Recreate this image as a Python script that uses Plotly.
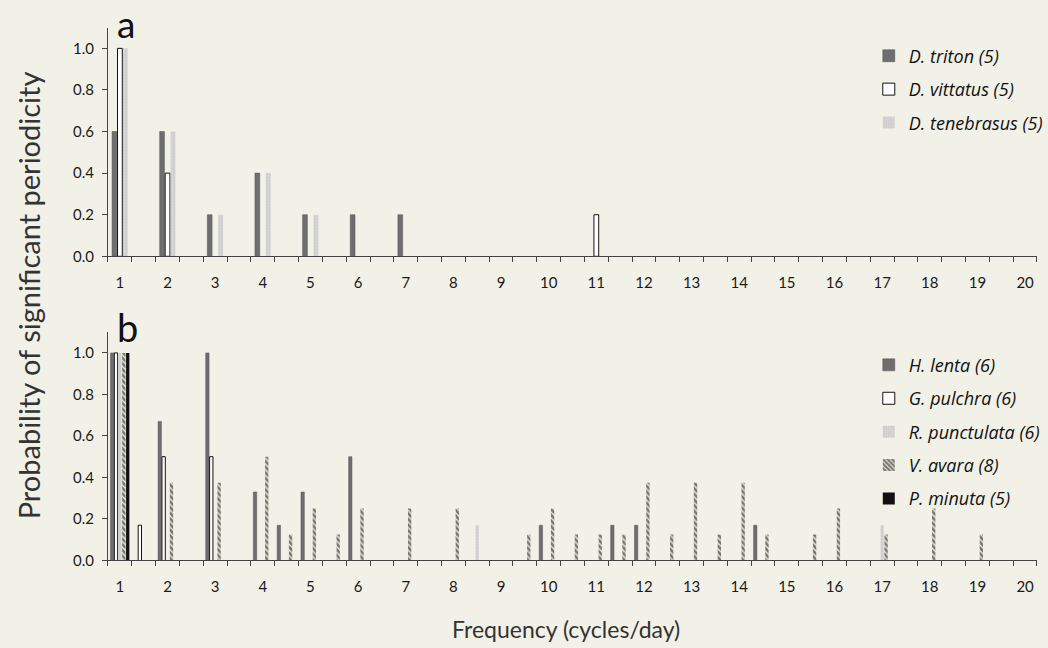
import plotly.graph_objects as go

# ---------------- data ----------------
freq_labels = [str(i) for i in range(1, 21)]
freq_label_pos = [1, 2, 3, 4, 5, 6, 7, 8, 9, 10, 11, 12, 13, 14, 15, 16, 17, 18, 19, 20]

# Panel a
triton_x = [1, 2, 3, 4, 5, 6, 7]
triton_y = [0.6, 0.6, 0.2, 0.4, 0.2, 0.2, 0.2]
vittatus_x = [1, 2, 11]
vittatus_y = [1.0, 0.4, 0.2]
tenebrasus_x = [1, 2, 3, 4, 5]
tenebrasus_y = [1.0, 0.6, 0.2, 0.4, 0.2]

# Panel b
lenta_x = [1, 2, 3, 4, 4.5, 5, 6, 10, 11.5, 12, 14.5]
lenta_y = [1.0, 0.67, 1.0, 0.33, 0.17, 0.33, 0.5, 0.17, 0.17, 0.17, 0.17]
pulchra_x = [1, 1.5, 2, 3]
pulchra_y = [1.0, 0.17, 0.5, 0.5]
punctulata_x = [1, 8.5, 17]
punctulata_y = [1.0, 0.17, 0.17]
avara_x = [1, 2, 3, 4, 4.5, 5, 5.5, 6, 7, 8, 9.5, 10, 10.5, 11, 11.5, 12, 12.5,
           13, 13.5, 14, 14.5, 15.5, 16, 17, 18, 19]
avara_y = [1.0, 0.375, 0.375, 0.5, 0.125, 0.25, 0.125, 0.25, 0.25, 0.25, 0.125,
           0.25, 0.125, 0.125, 0.125, 0.375, 0.125, 0.375, 0.125, 0.375, 0.125,
           0.125, 0.25, 0.125, 0.25, 0.125]
minuta_x = [1]
minuta_y = [1.0]

names_a = ["D. triton (5)", "D. vittatus (5)", "D. tenebrasus (5)"]
names_b = ["H. lenta (6)", "G. pulchra (6)", "R. punctulata (6)", "V. avara (8)", "P. minuta (5)"]

# ---------------- style ----------------
BG = "#f1f1e7"
FONT = "Lato"
AX = "#444444"

fig = go.Figure()

def add_bar(x, y, name, xa, ya, idx, n, spacing, width, legend, style):
    off = (idx - (n - 1) / 2) * spacing - width / 2
    marker = dict(line=dict(width=0))
    if style == "dark":
        marker.update(color="#6e6e6e", line=dict(color="#555555", width=0.5))
    elif style == "white":
        marker.update(color="#ffffff", line=dict(color="#111111", width=1))
    elif style == "light":
        marker.update(color="#cdcdcd",
                      pattern=dict(shape=".", fgcolor="#ececec", size=3, solidity=0.3))
    elif style == "hatch":
        marker.update(color=BG,
                      pattern=dict(shape="\\", fgcolor="#000000", bgcolor=BG, size=4, solidity=0.7))
    elif style == "black":
        marker.update(color="#111111")
    fig.add_trace(go.Bar(
        x=x, y=y, name=name, xaxis=xa, yaxis=ya,
        width=[width] * len(x), offset=[off] * len(x),
        marker=marker, legend=legend, legendgroup=name,
    ))

sa, wa = 0.115, 0.10
add_bar(triton_x, triton_y, names_a[0], "x", "y", 0, 3, sa, wa, "legend", "dark")
add_bar(vittatus_x, vittatus_y, names_a[1], "x", "y", 1, 3, sa, wa, "legend", "white")
add_bar(tenebrasus_x, tenebrasus_y, names_a[2], "x", "y", 2, 3, sa, wa, "legend", "light")

sb, wb = 0.082, 0.07
add_bar(lenta_x, lenta_y, names_b[0], "x2", "y2", 0, 5, sb, wb, "legend2", "dark")
add_bar(pulchra_x, pulchra_y, names_b[1], "x2", "y2", 1, 5, sb, wb, "legend2", "white")
add_bar(punctulata_x, punctulata_y, names_b[2], "x2", "y2", 2, 5, sb, wb, "legend2", "light")
add_bar(avara_x, avara_y, names_b[3], "x2", "y2", 3, 5, sb, wb, "legend2", "hatch")
add_bar(minuta_x, minuta_y, names_b[4], "x2", "y2", 4, 5, sb, wb, "legend2", "black")

boundaries = [0.75 + 0.5 * k for k in range(40)]

xcommon = dict(
    range=[0.75, 20.25], domain=[0.10305, 0.98950],
    tickmode="array", tickvals=freq_label_pos, ticktext=freq_labels,
    ticks="", showline=True, linecolor=AX, linewidth=1, showgrid=False, zeroline=False,
    tickfont=dict(family=FONT, size=15, color="#1a1a1a"),
    ticklabelstandoff=13,
    minor=dict(tickmode="array", tickvals=boundaries, ticks="outside", ticklen=5,
               tickcolor=AX, tickwidth=1, showgrid=False),
    fixedrange=True,
)
ycommon = dict(
    range=[0, 1.1], tickmode="array", tickvals=[0, 0.2, 0.4, 0.6, 0.8, 1.0],
    ticktext=["0.0", "0.2", "0.4", "0.6", "0.8", "1.0"],
    ticks="outside", ticklen=5, tickcolor=AX, tickwidth=1,
    showline=True, linecolor=AX, linewidth=1, showgrid=False, zeroline=False,
    tickfont=dict(family=FONT, size=15, color="#1a1a1a"),
    ticklabelstandoff=5,
    fixedrange=True,
)

legfont = dict(family="Open Sans", size=18, color="#111111", style="italic")

fig.update_layout(
    width=1048, height=648,
    margin=dict(l=0, r=0, t=0, b=0),
    paper_bgcolor=BG, plot_bgcolor=BG,
    barmode="overlay",
    font=dict(family=FONT, color="#222222"),
    xaxis=dict(xcommon, anchor="y"),
    yaxis=dict(ycommon, domain=[0.59954, 0.95694], anchor="x"),
    xaxis2=dict(xcommon, anchor="y2"),
    yaxis2=dict(ycommon, domain=[0.12423, 0.48102], anchor="x2"),
    legend=dict(x=0.829, y=1 - 38 / 648, xanchor="left", yanchor="top",
                bgcolor="rgba(0,0,0,0)", tracegroupgap=7, itemwidth=30,
                font=legfont),
    legend2=dict(x=0.829, y=1 - 351 / 648, xanchor="left", yanchor="top",
                 bgcolor="rgba(0,0,0,0)", tracegroupgap=7, itemwidth=30,
                 font=legfont),
    annotations=[
        dict(text="a", x=126 / 1048, y=1 - 24 / 648, xref="paper", yref="paper",
             xanchor="center", yanchor="middle",
             showarrow=False, font=dict(family=FONT, size=37, color="#111111")),
        dict(text="b", x=127 / 1048, y=1 - 331 / 648, xref="paper", yref="paper",
             xanchor="center", yanchor="middle",
             showarrow=False, font=dict(family=FONT, size=38, color="#111111")),
        dict(text="Probability of significant periodicity", x=28 / 1048, y=1 - 299 / 648,
             xref="paper", yref="paper", showarrow=False, textangle=-90,
             xanchor="center", yanchor="middle",
             font=dict(family=FONT, size=29, color="#333333")),
        dict(text="Frequency (cycles/day)", x=566 / 1048, y=1 - 637 / 648,
             xref="paper", yref="paper", showarrow=False,
             xanchor="center", yanchor="middle",
             font=dict(family=FONT, size=23, color="#333333")),
    ],
    showlegend=True,
)

fig.write_html("out.html")
